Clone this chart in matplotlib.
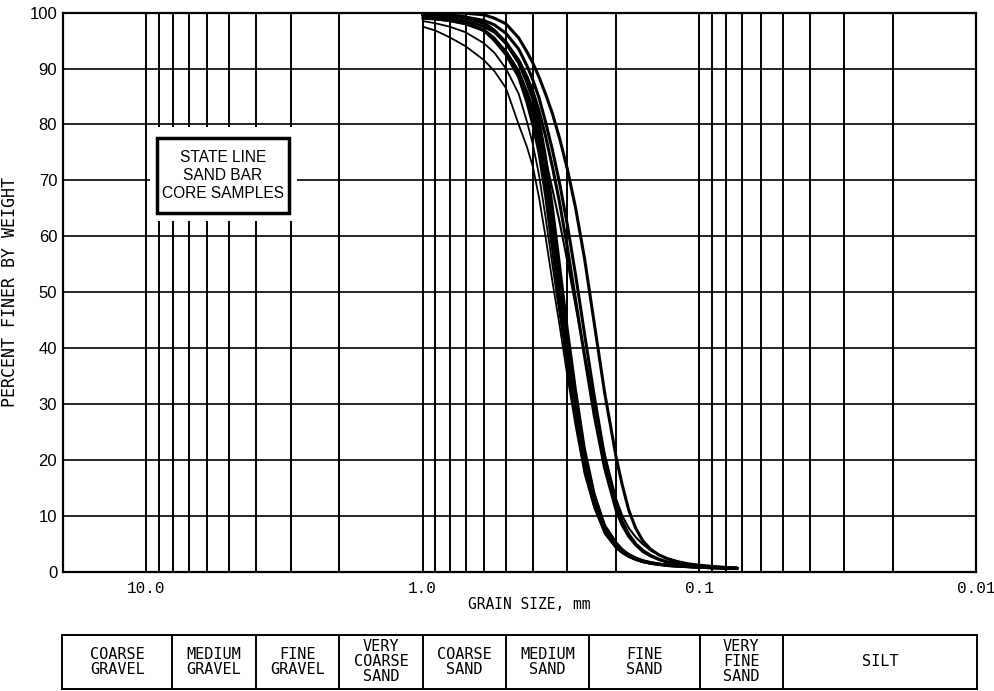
import matplotlib
matplotlib.use("Agg")
import matplotlib.pyplot as plt
from matplotlib.patches import Rectangle
import numpy as np

# grain sizes (mm) at which the curves were read
grain = [1.0, 0.9, 0.8, 0.7, 0.6, 0.55, 0.5, 0.45, 0.42, 0.4, 0.38, 0.36, 0.34, 0.32,
         0.3, 0.28, 0.26, 0.24, 0.22, 0.2, 0.19, 0.18, 0.17, 0.16, 0.15, 0.14, 0.13,
         0.12, 0.11, 0.1, 0.09, 0.08, 0.073]

# percent finer by weight, one list per core sample
s_a = [97.5, 96.8, 95.6, 94, 91.5, 89.5, 86.5, 80, 76, 72.5, 67, 60, 52, 44, 35, 26, 17.5,
       11.5, 7, 4.2, 3.4, 2.7, 2.2, 1.8, 1.5, 1.3, 1.1, 1.0, 0.9, 0.8, 0.7, 0.65, 0.6]
s_b = [98.5, 98.1, 97.5, 96.5, 94.5, 92.8, 90, 85.5, 80.5, 76.5, 71, 63.5, 55, 46, 36.5,
       27, 18, 11.5, 6.8, 4.2, 3.3, 2.6, 2.1, 1.7, 1.45, 1.25, 1.1, 1.0, 0.9, 0.8, 0.7,
       0.65, 0.6]
s_c = [99.5, 99.3, 99, 98.3, 96.8, 95, 92.5, 88.5, 84, 80, 75, 67.5, 58, 48, 38, 28.5, 19,
       13, 8, 4.8, 3.7, 2.9, 2.3, 1.8, 1.5, 1.3, 1.1, 1.0, 0.9, 0.8, 0.7, 0.65, 0.6]
s_d = [99, 98.9, 98.6, 98, 96.8, 95.2, 93, 89.5, 85.5, 82, 77, 69.5, 60, 50, 39.5, 29.5,
       20, 12.5, 7.3, 4.5, 3.5, 2.8, 2.2, 1.8, 1.5, 1.3, 1.1, 1.0, 0.9, 0.8, 0.7, 0.65, 0.6]
s_e = [100, 99.9, 99.7, 99.2, 98.2, 96.8, 94.5, 91, 87.5, 84.5, 79.5, 72.5, 63, 52.5, 41.5,
       31, 21, 13.5, 8, 5, 3.8, 3, 2.4, 1.9, 1.6, 1.35, 1.15, 1.0, 0.9, 0.8, 0.7, 0.65, 0.6]
s_f = [99.8, 99.6, 99.4, 99, 98, 96.8, 94.8, 91.5, 88.5, 85.5, 81, 74.5, 65.5, 55, 43.5,
       32.5, 22, 14, 8.3, 5.2, 4, 3.1, 2.5, 2, 1.65, 1.4, 1.2, 1.05, 0.9, 0.8, 0.7, 0.65,
       0.6]
s_g = [99.5, 99.3, 99, 98.5, 97.5, 96.5, 94.5, 91.5, 88.5, 86, 82.5, 78, 72.5, 66, 58,
       48.5, 38.5, 28, 18.5, 11, 8.3, 6.3, 4.8, 3.6, 2.8, 2.2, 1.7, 1.4, 1.15, 0.95, 0.8,
       0.68, 0.6]
s_h = [99.8, 99.7, 99.5, 99.2, 98.6, 97.8, 96.3, 93.5, 90.5, 88, 84.8, 80.5, 75.5, 69.5,
       62, 53, 42.5, 31.5, 20.5, 12, 9, 6.7, 5, 3.8, 2.9, 2.2, 1.7, 1.4, 1.15, 0.95, 0.8,
       0.68, 0.6]
s_i = [100, 100, 100, 99.9, 99.6, 99, 98, 95.5, 93, 91, 88.5, 85.5, 82, 77.5, 72, 65, 56,
       44.5, 32, 20.5, 15.5, 11, 7.8, 5.5, 4, 3, 2.3, 1.8, 1.4, 1.15, 0.95, 0.75, 0.6]
s_j = [99, 98.8, 98.5, 98, 97, 95.5, 93, 89.5, 86, 83, 79, 74, 68.5, 62.5, 55.5, 47.5, 39,
       30, 21, 13, 10, 7.8, 6.2, 4.9, 3.8, 3, 2.3, 1.8, 1.4, 1.1, 0.85, 0.7, 0.6]
samples = [s_a, s_b, s_c, s_d, s_e, s_f, s_g, s_h, s_i, s_j]
line_widths = [1.3, 1.3, 2.2, 2.2, 2.2, 1.9, 2.2, 2.2, 2.2, 1.5]

# grid
grid_sizes = [10, 9, 8, 7, 6, 5, 4, 3, 2, 1, 0.9, 0.8, 0.7, 0.6, 0.5, 0.4, 0.3, 0.2,
              0.1, 0.09, 0.08, 0.07, 0.06, 0.05, 0.04, 0.03, 0.02]
grid_pct = [10, 20, 30, 40, 50, 60, 70, 80, 90]
xtick_vals = [10, 1, 0.1, 0.01]
xtick_labels = ["10.0", "1.0", "0.1", "0.01"]

# classification table
class_bounds = [20, 8, 4, 2, 1, 0.5, 0.25, 0.1, 0.05, 0.01]
class_names = ["COARSE\nGRAVEL", "MEDIUM\nGRAVEL", "FINE\nGRAVEL", "VERY\nCOARSE\nSAND",
               "COARSE\nSAND", "MEDIUM\nSAND", "FINE\nSAND", "VERY\nFINE\nSAND", "SILT"]

fig = plt.figure(figsize=(9.95, 6.91), dpi=100)
ax = fig.add_axes([0.063, 0.1727, 0.918, 0.809])
ax.set_xscale("log")
ax.set_xlim(20, 0.01)
ax.set_ylim(0, 100)

for g in grid_sizes:
    ax.axvline(g, color="black", lw=1.4, zorder=1)
for p in grid_pct:
    ax.axhline(p, color="black", lw=1.2, zorder=1)

for vals, lw in zip(samples, line_widths):
    ax.plot(grain, vals, color="black", lw=lw, zorder=4,
            solid_capstyle="round", solid_joinstyle="round")

# label box, cut out of the grid
ax.add_patch(Rectangle((0.0956, 0.6274), 0.161, 0.168, transform=ax.transAxes,
                       facecolor="white", edgecolor="none", zorder=2))
ax.add_patch(Rectangle((0.1033, 0.6417), 0.1445, 0.1341, transform=ax.transAxes,
                       facecolor="white", edgecolor="black", lw=2.5, zorder=3))
ax.text(0.1755, 0.709, "STATE LINE\nSAND BAR\nCORE SAMPLES", transform=ax.transAxes,
        ha="center", va="center", linespacing=1.25, zorder=5,
        family="Liberation Sans", fontsize=11.2)

for sp in ax.spines.values():
    sp.set_linewidth(1.6)
    sp.set_zorder(6)

ax.set_yticks(range(0, 101, 10))
ax.set_yticklabels([str(v) for v in range(0, 101, 10)], family="Liberation Sans", fontsize=12)
ax.set_xticks(xtick_vals)
ax.set_xticklabels(xtick_labels, family="Liberation Mono", fontsize=11.5)
ax.xaxis.set_minor_locator(matplotlib.ticker.NullLocator())
ax.tick_params(axis="both", length=0)
ax.tick_params(axis="y", pad=4)
ax.tick_params(axis="x", pad=7)

ax.set_xlabel("GRAIN SIZE, mm", family="DejaVu Sans Mono", fontsize=10.5)
ax.xaxis.set_label_coords(0.5105, -0.045)
ax.set_ylabel("PERCENT FINER BY WEIGHT", family="DejaVu Sans Mono", fontsize=12)
ax.yaxis.set_label_coords(-0.048, 0.5)

# grain-size classification table
tab = fig.add_axes([0.0625, 0.003, 0.919, 0.078])
tab.set_xscale("log")
tab.set_xlim(20, 0.01)
tab.set_ylim(0, 1)
tab.set_xticks([])
tab.set_yticks([])
tab.xaxis.set_minor_locator(matplotlib.ticker.NullLocator())
for sp in tab.spines.values():
    sp.set_linewidth(1.4)
for b in class_bounds[1:-1]:
    tab.axvline(b, color="black", lw=1.4)
for j, name in enumerate(class_names):
    xc = np.sqrt(class_bounds[j] * class_bounds[j + 1])
    tab.text(xc, 0.5, name, ha="center", va="center", family="DejaVu Sans Mono",
             fontsize=11, linespacing=1.0)

fig.savefig("out.png", dpi=100)
